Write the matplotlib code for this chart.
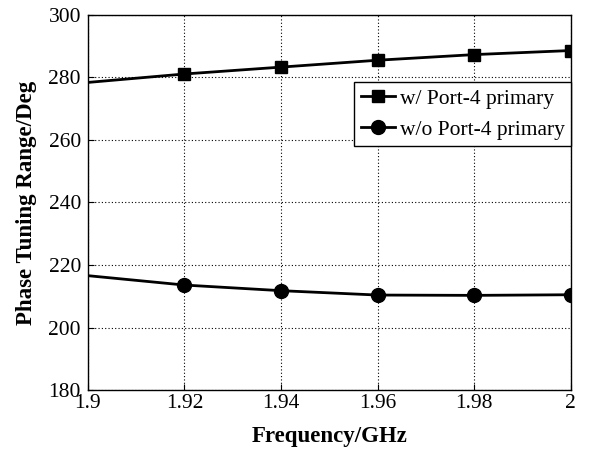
import numpy as np
import matplotlib
matplotlib.use("Agg")
import matplotlib.pyplot as plt

freq = [1.90, 1.92, 1.94, 1.96, 1.98, 2.00]
with_port4 = [278.4, 281.1, 283.3, 285.5, 287.3, 288.6]
without_port4 = [216.6, 213.6, 211.8, 210.4, 210.3, 210.5]

plt.rcParams["font.family"] = "Liberation Serif"

fig = plt.figure(figsize=(5.94, 4.51), dpi=100)
ax = fig.add_axes([0.148, 0.135, 0.813, 0.832])

ax.plot(freq, with_port4, "k-", lw=2, marker="s", ms=9, markevery=slice(1, None),
        label="w/ Port-4 primary")
ax.plot(freq, without_port4, "k-", lw=2, marker="o", ms=10, markevery=slice(1, None),
        label="w/o Port-4 primary")

ax.set_xlim(1.9, 2.0)
ax.set_ylim(180, 300)
ax.set_xticks(freq)
ax.set_xticklabels(["1.9", "1.92", "1.94", "1.96", "1.98", "2"])
ax.set_yticks(np.arange(180, 301, 20))
ax.tick_params(direction="in", labelsize=15.5, length=4)
ax.tick_params(axis="x", pad=3)
ax.tick_params(axis="y", pad=5)
ax.grid(True, color="k", linestyle=(0, (1, 2)), linewidth=0.8)
for s in ax.spines.values():
    s.set_linewidth(1.0)

ax.set_xlabel("Frequency/GHz", fontsize=16.5, fontweight="bold", labelpad=9)
ax.set_ylabel("Phase Tuning Range/Deg", fontsize=16.5, fontweight="bold", labelpad=8)

leg = ax.legend(loc="upper right", bbox_to_anchor=(1.0, 0.82), fontsize=15.5,
                frameon=True, fancybox=False, edgecolor="k", framealpha=1,
                handlelength=1.6, handletextpad=0.2, borderpad=0.3,
                labelspacing=0.5, borderaxespad=0)
leg.get_frame().set_linewidth(1.0)

fig.savefig("out.png", dpi=100)
